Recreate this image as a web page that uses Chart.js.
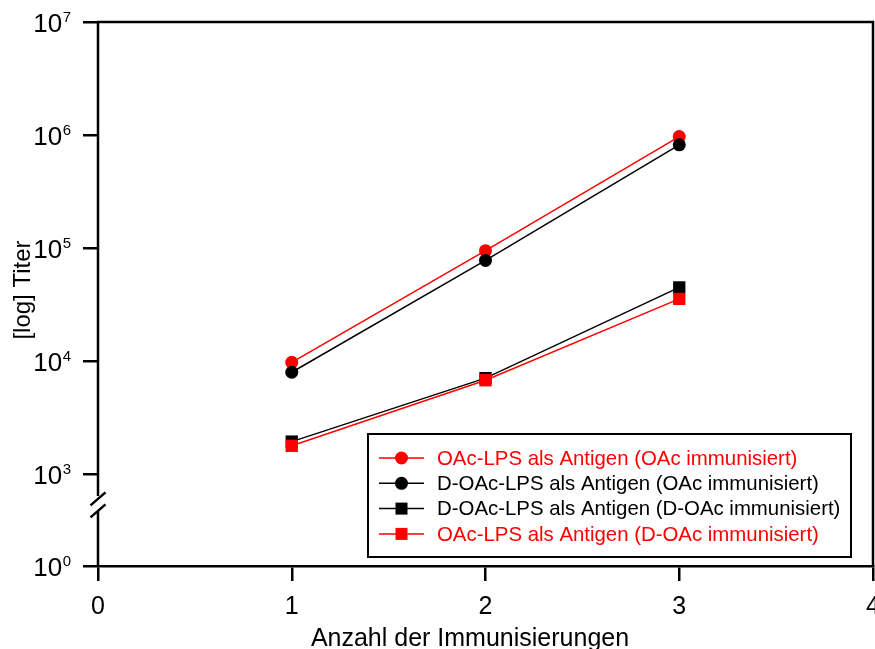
<!DOCTYPE html>
<html>
<head>
<meta charset="utf-8">
<title>Titer</title>
<script src="https://cdn.jsdelivr.net/npm/chart.js@4.4.1/dist/chart.umd.min.js"></script>
<style>
  html, body { margin: 0; padding: 0; background: #fff; overflow: hidden; }
  canvas { display: block; }
</style>
</head>
<body>
<canvas id="chart" width="875" height="649"></canvas>
<script>
/* ---- Daten ---- */
const immunisierungen = [1, 2, 3];
const xTicks = [0, 1, 2, 3, 4];

const oacOac     = [9800, 95000, 970000];   // OAc-LPS als Antigen (OAc immunisiert)
const doacOac    = [8000, 78000, 820000];   // D-OAc-LPS als Antigen (OAc immunisiert)
const doacDoac   = [1950, 7100, 45000];     // D-OAc-LPS als Antigen (D-OAc immunisiert)
const oacDoac    = [1790, 6800, 35600];     // OAc-LPS als Antigen (D-OAc immunisiert)

const yTickValues = [1, 1e3, 1e4, 1e5, 1e6, 1e7];
const yTickExp    = ["0", "3", "4", "5", "6", "7"];

const serienNamen = [
    "OAc-LPS als Antigen (OAc immunisiert)",
    "D-OAc-LPS als Antigen (OAc immunisiert)",
    "D-OAc-LPS als Antigen (D-OAc immunisiert)",
    "OAc-LPS als Antigen (D-OAc immunisiert)"
];

const X_TITEL = "Anzahl der Immunisierungen";
const Y_TITEL = "[log] Titer";

/* ---- Achsenbruch: unterhalb 10^3 gestaucht ---- */
const BRUCH_LOG = 3;
const STAUCHUNG = 0.27;
const BRUCH_WERT = 100;   // wo die Bruchstriche sitzen

function tf(v) {
    const l = Math.log10(v);
    return l >= BRUCH_LOG ? l : BRUCH_LOG - (BRUCH_LOG - l) * STAUCHUNG;
}

const FONT = "'Liberation Sans', Arial, Helvetica, sans-serif";
Chart.defaults.font.family = FONT;
Chart.defaults.color = "#000";

function punkte(werte) {
    return immunisierungen.map((x, i) => ({ x: x, y: tf(werte[i]) }));
}

function serie(label, werte, farbe, stil, radius, order) {
    return {
        label: label,
        data: punkte(werte),
        borderColor: farbe,
        backgroundColor: farbe,
        borderWidth: 1.5,
        pointStyle: stil,
        pointRadius: radius,
        pointHoverRadius: radius,
        pointBorderWidth: 0,
        pointBackgroundColor: farbe,
        tension: 0,
        order: order
    };
}

const datasets = [
    serie(serienNamen[0], oacOac,   "#ff0000", "circle", 6.5, 4),
    serie(serienNamen[1], doacOac,  "#000000", "circle", 6.5, 3),
    serie(serienNamen[2], doacDoac, "#000000", "rect",   8.7, 2),
    serie(serienNamen[3], oacDoac,  "#ff0000", "rect",   8.7, 1)
];

/* ---- Rahmen, Achsenbruch, Beschriftung, Legende ---- */
const rahmenPlugin = {
    id: "rahmen",
    afterDraw(chart) {
        const ctx = chart.ctx;
        const a = chart.chartArea;
        const ys = chart.scales.y;

        ctx.save();
        ctx.strokeStyle = "#000";
        ctx.lineWidth = 2.5;
        ctx.lineCap = "butt";

        // oben + rechts
        ctx.beginPath();
        ctx.moveTo(a.left - 1, a.top);
        ctx.lineTo(a.right, a.top);
        ctx.lineTo(a.right, a.bottom);
        ctx.stroke();

        // linke Achse mit Bruch
        const by = ys.getPixelForValue(tf(BRUCH_WERT));
        ctx.beginPath();
        ctx.moveTo(a.left, a.top - 1);
        ctx.lineTo(a.left, by - 9);
        ctx.moveTo(a.left, by + 6);
        ctx.lineTo(a.left, a.bottom);
        ctx.stroke();
        ctx.beginPath();
        for (const d of [-6, 6]) {
            ctx.moveTo(a.left - 7.5, by + d + 6.5);
            ctx.lineTo(a.left + 7.5, by + d - 6.5);
        }
        ctx.stroke();

        // y-Tickbeschriftung 10^n
        ctx.fillStyle = "#000";
        ctx.textBaseline = "alphabetic";
        for (let i = 0; i < yTickValues.length; i++) {
            const py = ys.getPixelForValue(tf(yTickValues[i]));
            const rechts = a.left - 27;
            ctx.font = "15px " + FONT;
            ctx.textAlign = "right";
            const ew = ctx.measureText(yTickExp[i]).width;
            ctx.fillText(yTickExp[i], rechts, py);
            ctx.font = "26px " + FONT;
            ctx.fillText("10", rechts - ew - 0.5, py + 9.5);
        }

        // Achsentitel
        ctx.font = "25px " + FONT;
        ctx.textAlign = "center";
        ctx.fillText(X_TITEL, 470, 646);
        ctx.save();
        ctx.translate(30, 290);
        ctx.rotate(-Math.PI / 2);
        ctx.font = "24px " + FONT;
        ctx.fillText(Y_TITEL, 0, 0);
        ctx.restore();

        // Legende
        const lx = 368, ly = 434, lw = 483, lh = 123;
        ctx.fillStyle = "#fff";
        ctx.fillRect(lx, ly, lw, lh);
        ctx.lineWidth = 2;
        ctx.strokeRect(lx, ly, lw, lh);

        ctx.font = "20.4px " + FONT;
        ctx.textAlign = "left";
        ctx.textBaseline = "middle";
        chart.data.datasets.forEach((ds, i) => {
            const ry = ly + 24 + i * 25.3;
            ctx.strokeStyle = ds.borderColor;
            ctx.lineWidth = 1.5;
            ctx.beginPath();
            ctx.moveTo(lx + 11, ry);
            ctx.lineTo(lx + 56, ry);
            ctx.stroke();
            ctx.fillStyle = ds.borderColor;
            if (ds.pointStyle === "circle") {
                ctx.beginPath();
                ctx.arc(lx + 33.5, ry, 6.5, 0, Math.PI * 2);
                ctx.fill();
            } else {
                ctx.fillRect(lx + 27.5, ry - 6, 12, 12);
            }
            ctx.fillText(ds.label, lx + 69, ry + 1);
        });

        ctx.restore();
    }
};

new Chart(document.getElementById("chart"), {
    type: "line",
    data: { datasets },
    options: {
        responsive: false,
        animation: false,
        events: [],
        layout: { autoPadding: false, padding: { top: 22, right: 2, left: 0, bottom: 0 } },
        plugins: {
            legend: { display: false },
            tooltip: { enabled: false }
        },
        scales: {
            x: {
                type: "linear",
                min: 0,
                max: 4,
                afterBuildTicks: (s) => { s.ticks = xTicks.map(v => ({ value: v })); },
                ticks: {
                    color: "#000",
                    font: { size: 25 },
                    padding: 11,
                    maxRotation: 0,
                    autoSkip: false
                },
                grid: {
                    drawOnChartArea: false,
                    drawTicks: true,
                    tickLength: 15,
                    color: "#000",
                    lineWidth: 2.5
                },
                border: { display: true, color: "#000", width: 2.5 },
                title: { display: false },
                afterFit: (s) => { s.height = 83; s.paddingRight = 0; }
            },
            y: {
                type: "linear",
                min: tf(yTickValues[0]),
                max: tf(yTickValues[yTickValues.length - 1]),
                afterBuildTicks: (s) => { s.ticks = yTickValues.map(v => ({ value: tf(v) })); },
                ticks: { display: false },
                grid: {
                    drawOnChartArea: false,
                    drawTicks: true,
                    tickLength: 15,
                    color: "#000",
                    lineWidth: 2.5
                },
                border: { display: false },
                title: { display: false },
                afterFit: (s) => { s.width = 98; s.paddingTop = 0; s.paddingBottom = 0; }
            }
        }
    },
    plugins: [rahmenPlugin]
});
</script>
</body>
</html>
